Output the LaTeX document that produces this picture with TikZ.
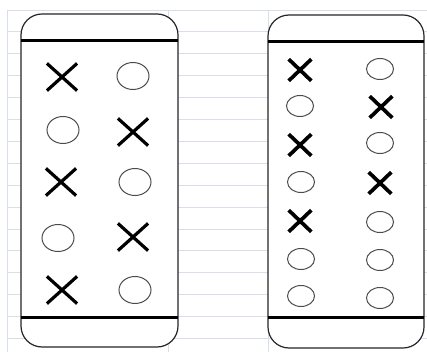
\documentclass[tikz,border=0pt]{standalone}
\usetikzlibrary{shapes.misc,shapes.geometric}
\begin{document}
\begin{tikzpicture}[x=1pt,y=-1pt,
  grid/.style={draw=gridc,line width=0.9pt},
  card/.style={draw=black!85,line width=1.2pt,rounded corners=21pt,fill=white},
  rule/.style={draw=black,line width=3pt},
  bigx/.style={cross out,draw=black,line width=3.2pt,minimum width=27pt,minimum height=24pt,inner sep=0pt},
  bigo/.style={ellipse,draw=black!70,line width=1pt,minimum width=32pt,minimum height=27pt,inner sep=0pt},
  smallx/.style={cross out,draw=black,line width=3.7pt,minimum width=19pt,minimum height=18pt,inner sep=0pt},
  smallo/.style={ellipse,draw=black!70,line width=1pt,minimum width=27pt,minimum height=21pt,inner sep=0pt}]
\definecolor{gridc}{HTML}{D8DFEB}
\useasboundingbox (0,0) rectangle (427,352);
\fill[white] (0,0) rectangle (427,352);
% grid
\foreach \k in {0,...,15} \draw[grid] (7,{10+21.9*\k}) -- (427,{10+21.9*\k});
\foreach \xx in {7,168,268} \draw[grid] (\xx,10) -- (\xx,352);
% left card
\path[card] (21,14) rectangle (178,347);
\draw[rule] (21,41) -- (178,41);
\draw[rule] (21,317) -- (178,317);
% right card
\path[card] (268,15) rectangle (424,348);
\draw[rule] (268,42) -- (424,42);
\draw[rule] (268,317) -- (424,317);
% left symbols
\node[bigx] (l1a) at (62,77) {};
\node[bigo] (l1b) at (133,76) {};
\node[bigo] (l2a) at (63,130) {};
\node[bigx] (l2b) at (133,132) {};
\node[bigx] (l3a) at (61,182) {};
\node[bigo] (l3b) at (135,182) {};
\node[bigo] (l4a) at (58,238) {};
\node[bigx] (l4b) at (133,237) {};
\node[bigx] (l5a) at (62,290) {};
\node[bigo] (l5b) at (135,290) {};
% right symbols
\node[smallx] (r1a) at (300,70) {};
\node[smallo] (r1b) at (380,69) {};
\node[smallo] (r2a) at (300,106) {};
\node[smallx] (r2b) at (381,107) {};
\node[smallx] (r3a) at (300,145) {};
\node[smallo] (r3b) at (380,143) {};
\node[smallo] (r4a) at (301,182) {};
\node[smallx] (r4b) at (380,183) {};
\node[smallx] (r5a) at (300,221) {};
\node[smallo] (r5b) at (380,222) {};
\node[smallo] (r6a) at (301,259) {};
\node[smallo] (r6b) at (380,260) {};
\node[smallo] (r7a) at (301,296) {};
\node[smallo] (r7b) at (380,298) {};
\end{tikzpicture}
\end{document}
